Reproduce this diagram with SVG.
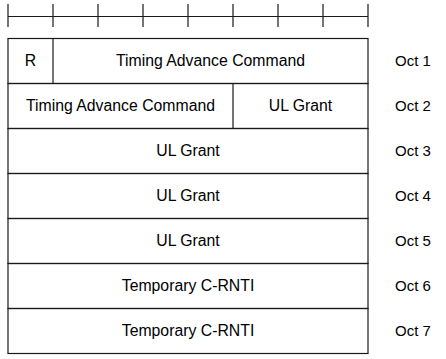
<svg xmlns="http://www.w3.org/2000/svg" width="446" height="359" viewBox="0 0 446 359">
<style>
.ln{stroke:#1a1a1a;stroke-width:1.2;fill:none}
.t{font-family:"Liberation Sans",Arial,sans-serif;font-size:15.8px;fill:#000;text-anchor:middle}
.o{font-family:"Liberation Sans",Arial,sans-serif;font-size:15px;fill:#000;text-anchor:middle}
</style>
<rect width="446" height="359" fill="#fff"/>
<g id="ruler" class="ln">
<line x1="8" y1="16.5" x2="368" y2="16.5"/>
<path d="M8 4V27M53 4V27M98 4V27M143 4V27M188 4V27M233 4V27M278 4V27M323 4V27M368 4V27"/>
</g>
<g id="oct1">
<rect class="ln" x="8" y="38.5" width="360" height="45"/>
<line class="ln" x1="53" y1="38.5" x2="53" y2="83.5"/>
<text class="t" x="30.5" y="66">R</text>
<text class="t" x="210.5" y="66">Timing Advance Command</text>
<text class="o" x="413" y="66">Oct 1</text>
</g>
<g id="oct2">
<rect class="ln" x="8" y="83.5" width="360" height="45"/>
<line class="ln" x1="233" y1="83.5" x2="233" y2="128.5"/>
<text class="t" x="120.5" y="111">Timing Advance Command</text>
<text class="t" x="300.5" y="111">UL Grant</text>
<text class="o" x="413" y="111">Oct 2</text>
</g>
<g id="oct3">
<rect class="ln" x="8" y="128.5" width="360" height="45"/>
<text class="t" x="188" y="156">UL Grant</text>
<text class="o" x="413" y="156">Oct 3</text>
</g>
<g id="oct4">
<rect class="ln" x="8" y="173.5" width="360" height="45"/>
<text class="t" x="188" y="201">UL Grant</text>
<text class="o" x="413" y="201">Oct 4</text>
</g>
<g id="oct5">
<rect class="ln" x="8" y="218.5" width="360" height="45"/>
<text class="t" x="188" y="246">UL Grant</text>
<text class="o" x="413" y="246">Oct 5</text>
</g>
<g id="oct6">
<rect class="ln" x="8" y="263.5" width="360" height="45"/>
<text class="t" x="188" y="291">Temporary C-RNTI</text>
<text class="o" x="413" y="291">Oct 6</text>
</g>
<g id="oct7">
<rect class="ln" x="8" y="308.5" width="360" height="45"/>
<text class="t" x="188" y="336">Temporary C-RNTI</text>
<text class="o" x="413" y="336">Oct 7</text>
</g>
<g id="connectors"/>
</svg>
